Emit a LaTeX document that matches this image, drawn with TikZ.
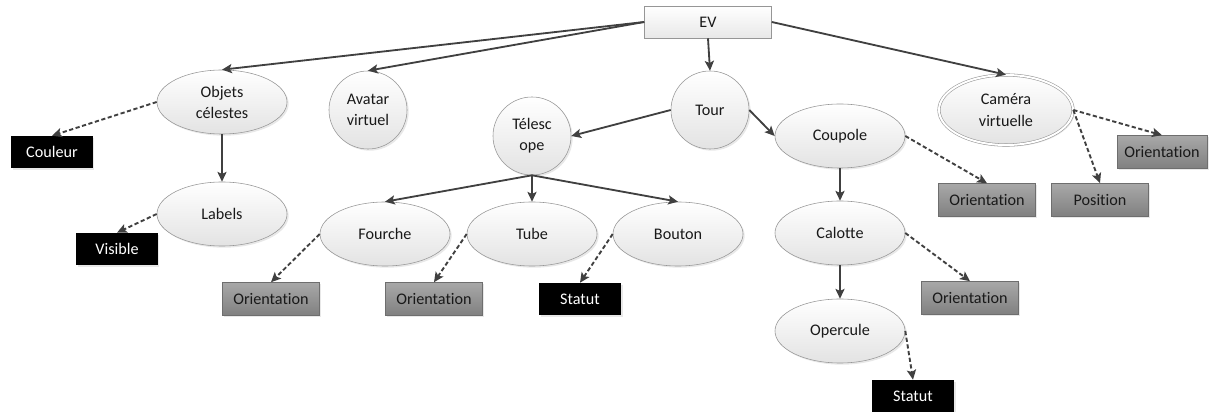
\documentclass[tikz,border=0pt]{standalone}
\usepackage{fontspec}
\setmainfont{Carlito}[Ligatures=NoCommon]
\usetikzlibrary{arrows.meta,shapes.geometric,shadows}
\definecolor{lnk}{RGB}{64,64,64}
\definecolor{bord}{RGB}{150,150,150}
\definecolor{gtop}{RGB}{168,168,168}
\definecolor{gbot}{RGB}{128,128,128}
\definecolor{gbord}{RGB}{110,110,110}

\begin{document}
\begin{tikzpicture}[
        x=0.025cm, y=-0.025cm,
        every node/.style={font=\fontsize{11.5}{15}\selectfont, align=center, inner sep=0pt, text=black!90},
        shd/.style={drop shadow={shadow xshift=1.2pt, shadow yshift=-1.2pt, opacity=0.18}},
        evbox/.style={rectangle, draw=bord, top color=white, bottom color=gray!18, minimum width=3.175cm, minimum height=0.8cm},
        elli/.style={ellipse, draw=bord, top color=white, bottom color=gray!22, shd, minimum width=3.25cm, minimum height=1.6cm},
        rond/.style={circle, draw=bord, top color=white, bottom color=gray!22, shd, minimum size=1.95cm},
        gbox/.style={rectangle, draw=gbord, top color=gtop, bottom color=gbot, shd, minimum width=2.425cm, minimum height=0.825cm},
        bbox/.style={rectangle, fill=black, text=white, shd, minimum width=2.025cm, minimum height=0.8cm},
        lien/.style={draw=lnk, line width=1.3pt, -{Stealth[length=7pt, width=6.5pt, inset=1.5pt]}},
        attr/.style={lien, line width=1.35pt, dash pattern=on 3pt off 1.8pt},
    ]
        \useasboundingbox (0,0) rectangle (1211,412);

        % Root
        \node[evbox] (ev) at (708, 22) {EV};

        % First level
        \node[elli] (objets) at (222, 102) {Objets\\célestes};
        \node[rond] (avatar) at (368, 110) {Avatar\\virtuel};
        \node[rond] (tour) at (710, 110) {Tour};
        \node[elli, double=white, double distance=1.4pt, minimum width=3.35cm, minimum height=1.75cm] (camera) at (1006, 110) {Caméra\\virtuelle};

        % Under Objets celestes
        \node[elli] (labels) at (222, 214) {Labels};
        \node[bbox] (couleur) at (52, 152) {Couleur};
        \node[bbox] (visible) at (117, 249) {Visible};

        % Under Tour
        \node[rond] (telescope) at (532, 136) {Télesc\\ope};
        \node[elli] (coupole) at (840, 136) {Coupole};
        \node[elli] (calotte) at (840, 233) {Calotte};
        \node[elli] (opercule) at (840, 331) {Opercule};

        % Under Telescope
        \node[elli] (fourche) at (385, 234) {Fourche};
        \node[elli] (tube) at (532, 234) {Tube};
        \node[elli] (bouton) at (678, 234) {Bouton};

        % Attributes
        \node[gbox] (orFourche) at (271, 299) {Orientation};
        \node[gbox] (orTube) at (434, 299) {Orientation};
        \node[bbox, minimum width=2.05cm] (statutBouton) at (580, 299) {Statut};
        \node[gbox] (orCoupole) at (987, 200) {Orientation};
        \node[gbox] (orCalotte) at (970, 298) {Orientation};
        \node[bbox, minimum width=2.05cm] (statutOpercule) at (913, 396) {Statut};
        \node[gbox] (position) at (1100, 200) {Position};
        \node[gbox, minimum width=2.25cm] (orCamera) at (1162, 152) {Orientation};

        % Composition links
        \draw[lien] (ev.west) -- (objets.north);
        \draw[lien] (ev.west) -- (avatar.north);
        \draw[lien] (ev.south) -- (tour.north);
        \draw[lien] (ev.east) -- (camera.north);
        \draw[lien] (objets.south) -- (labels.north);
        \draw[lien] (tour.west) -- (telescope.east);
        \draw[lien] (tour.east) -- (coupole.west);
        \draw[lien] (telescope.south) -- (fourche.north);
        \draw[lien] (telescope.south) -- (tube.north);
        \draw[lien] (telescope.south) -- (bouton.north);
        \draw[lien] (coupole.south) -- (calotte.north);
        \draw[lien] (calotte.south) -- (opercule.north);

        % Attribute links
        \draw[attr] (objets.west) -- (couleur.north);
        \draw[attr] (labels.west) -- (visible.north);
        \draw[attr] (fourche.west) -- (orFourche.north);
        \draw[attr] (tube.west) -- (orTube.north);
        \draw[attr] (bouton.west) -- (statutBouton.north);
        \draw[attr] (coupole.east) -- (orCoupole.north);
        \draw[attr] (calotte.east) -- (orCalotte.north);
        \draw[attr] (opercule.east) -- (statutOpercule.north);
        \draw[attr] (camera.east) -- (orCamera.north);
        \draw[attr] (camera.east) -- (position.north);
    \end{tikzpicture}
\end{document}
